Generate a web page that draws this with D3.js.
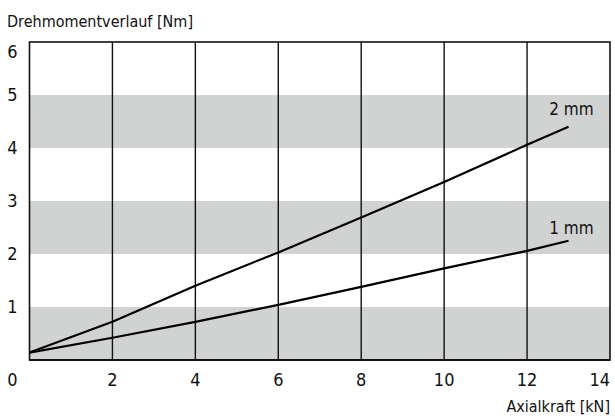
<!DOCTYPE html>
<head>
    <meta charset='utf-8'>
    <title>Drehmomentverlauf</title>
    <script src='https://d3js.org/d3.v7.min.js'></script>
    <style>
        html, body {
            margin: 0px;
            padding: 0px;
            background: white;
        }
        svg {
            display: block;
        }
        text {
            font-family: 'Liberation Sans Narrow', 'DejaVu Sans Condensed', sans-serif;
            fill: #111;
        }
    </style>
</head>

<body>
    <div id='chart'></div>

    <script>
        // values
        var xTicks = [0, 2, 4, 6, 8, 10, 12, 14];
        var yTicks = [1, 2, 3, 4, 5, 6];
        var bands = [[0, 1], [2, 3], [4, 5]]; // grey stripes
        var seriesNames = ['1 mm', '2 mm'];
        var forceKN = [0, 2, 4, 6, 8, 10, 12, 13];
        var torque1mm = [0.14, 0.42, 0.72, 1.04, 1.38, 1.73, 2.06, 2.25];
        var torque2mm = [0.14, 0.72, 1.40, 2.03, 2.69, 3.36, 4.06, 4.40];

        var width = 615, height = 420;
        var margin = {top: 42, right: 5, bottom: 60, left: 29.5};

        var svg = d3.select('#chart').append('svg')
            .attr('width', width)
            .attr('height', height);

        var x = d3.scaleLinear().domain([0, 14]).range([margin.left, width - margin.right]);
        var y = d3.scaleLinear().domain([0, 6]).range([height - margin.bottom, margin.top]);

        // stripes
        svg.selectAll('rect.band')
            .data(bands)
            .enter()
            .append('rect')
            .attr('class', 'band')
            .attr('x', x(0))
            .attr('width', x(14) - x(0))
            .attr('y', function(d) { return y(d[1]); })
            .attr('height', function(d) { return y(d[0]) - y(d[1]); })
            .attr('fill', '#d1d2d2');

        // vertical grid lines
        svg.selectAll('line.grid')
            .data(xTicks.slice(1, -1))
            .enter()
            .append('line')
            .attr('x1', function(d) { return x(d); })
            .attr('x2', function(d) { return x(d); })
            .attr('y1', y(6))
            .attr('y2', y(0))
            .attr('stroke', '#111')
            .attr('stroke-width', 1.4);

        // frame
        svg.append('rect')
            .attr('x', x(0))
            .attr('y', y(6))
            .attr('width', x(14) - x(0))
            .attr('height', y(0) - y(6))
            .attr('fill', 'none')
            .attr('stroke', '#111')
            .attr('stroke-width', 1.6);
        svg.append('line')
            .attr('x1', x(0)).attr('x2', x(14))
            .attr('y1', y(0)).attr('y2', y(0))
            .attr('stroke', '#111')
            .attr('stroke-width', 2.2);

        // curves
        var line = d3.line()
            .x(function(d) { return x(d[0]); })
            .y(function(d) { return y(d[1]); });

        var series = [torque1mm, torque2mm].map(function(vals, i) {
            return {name: seriesNames[i], points: forceKN.map(function(f, j) { return [f, vals[j]]; })};
        });

        svg.selectAll('path.curve')
            .data(series)
            .enter()
            .append('path')
            .attr('class', 'curve')
            .attr('d', function(d) { return line(d.points); })
            .attr('fill', 'none')
            .attr('stroke', '#000')
            .attr('stroke-width', 2.2);

        // label lifts above the curve ends
        var labelLift = [6.5, 11.5];

        svg.selectAll('text.curve-label')
            .data(series)
            .enter()
            .append('text')
            .attr('class', 'curve-label')
            .attr('x', function(d) { return x(d.points[d.points.length - 1][0]) + 25; })
            .attr('y', function(d, i) { return y(d.points[d.points.length - 1][1]) - labelLift[i]; })
            .attr('text-anchor', 'end')
            .style('font-size', '17px')
            .text(function(d) { return d.name; });

        // y tick labels
        svg.selectAll('text.ytick')
            .data(yTicks)
            .enter()
            .append('text')
            .attr('class', 'ytick')
            .attr('x', 12.5)
            .attr('y', function(d) { return d === 6 ? y(d) + 10 : y(d); })
            .attr('dy', '0.36em')
            .attr('text-anchor', 'middle')
            .style('font-size', '18px')
            .text(function(d) { return d; });

        // x tick labels
        svg.selectAll('text.xtick')
            .data(xTicks)
            .enter()
            .append('text')
            .attr('class', 'xtick')
            .attr('x', function(d) { return d === 0 ? 12.5 : x(d); })
            .attr('y', y(0) + 26)
            .attr('text-anchor', function(d) { return d === 14 ? 'end' : 'middle'; })
            .style('font-size', '18px')
            .text(function(d) { return d; });

        // axis titles
        svg.append('text')
            .attr('x', 7)
            .attr('y', 27)
            .style('font-size', '16px')
            .text('Drehmomentverlauf [Nm]');

        svg.append('text')
            .attr('x', x(14))
            .attr('y', 412)
            .attr('text-anchor', 'end')
            .style('font-size', '16px')
            .text('Axialkraft [kN]');
    </script>
</body>
